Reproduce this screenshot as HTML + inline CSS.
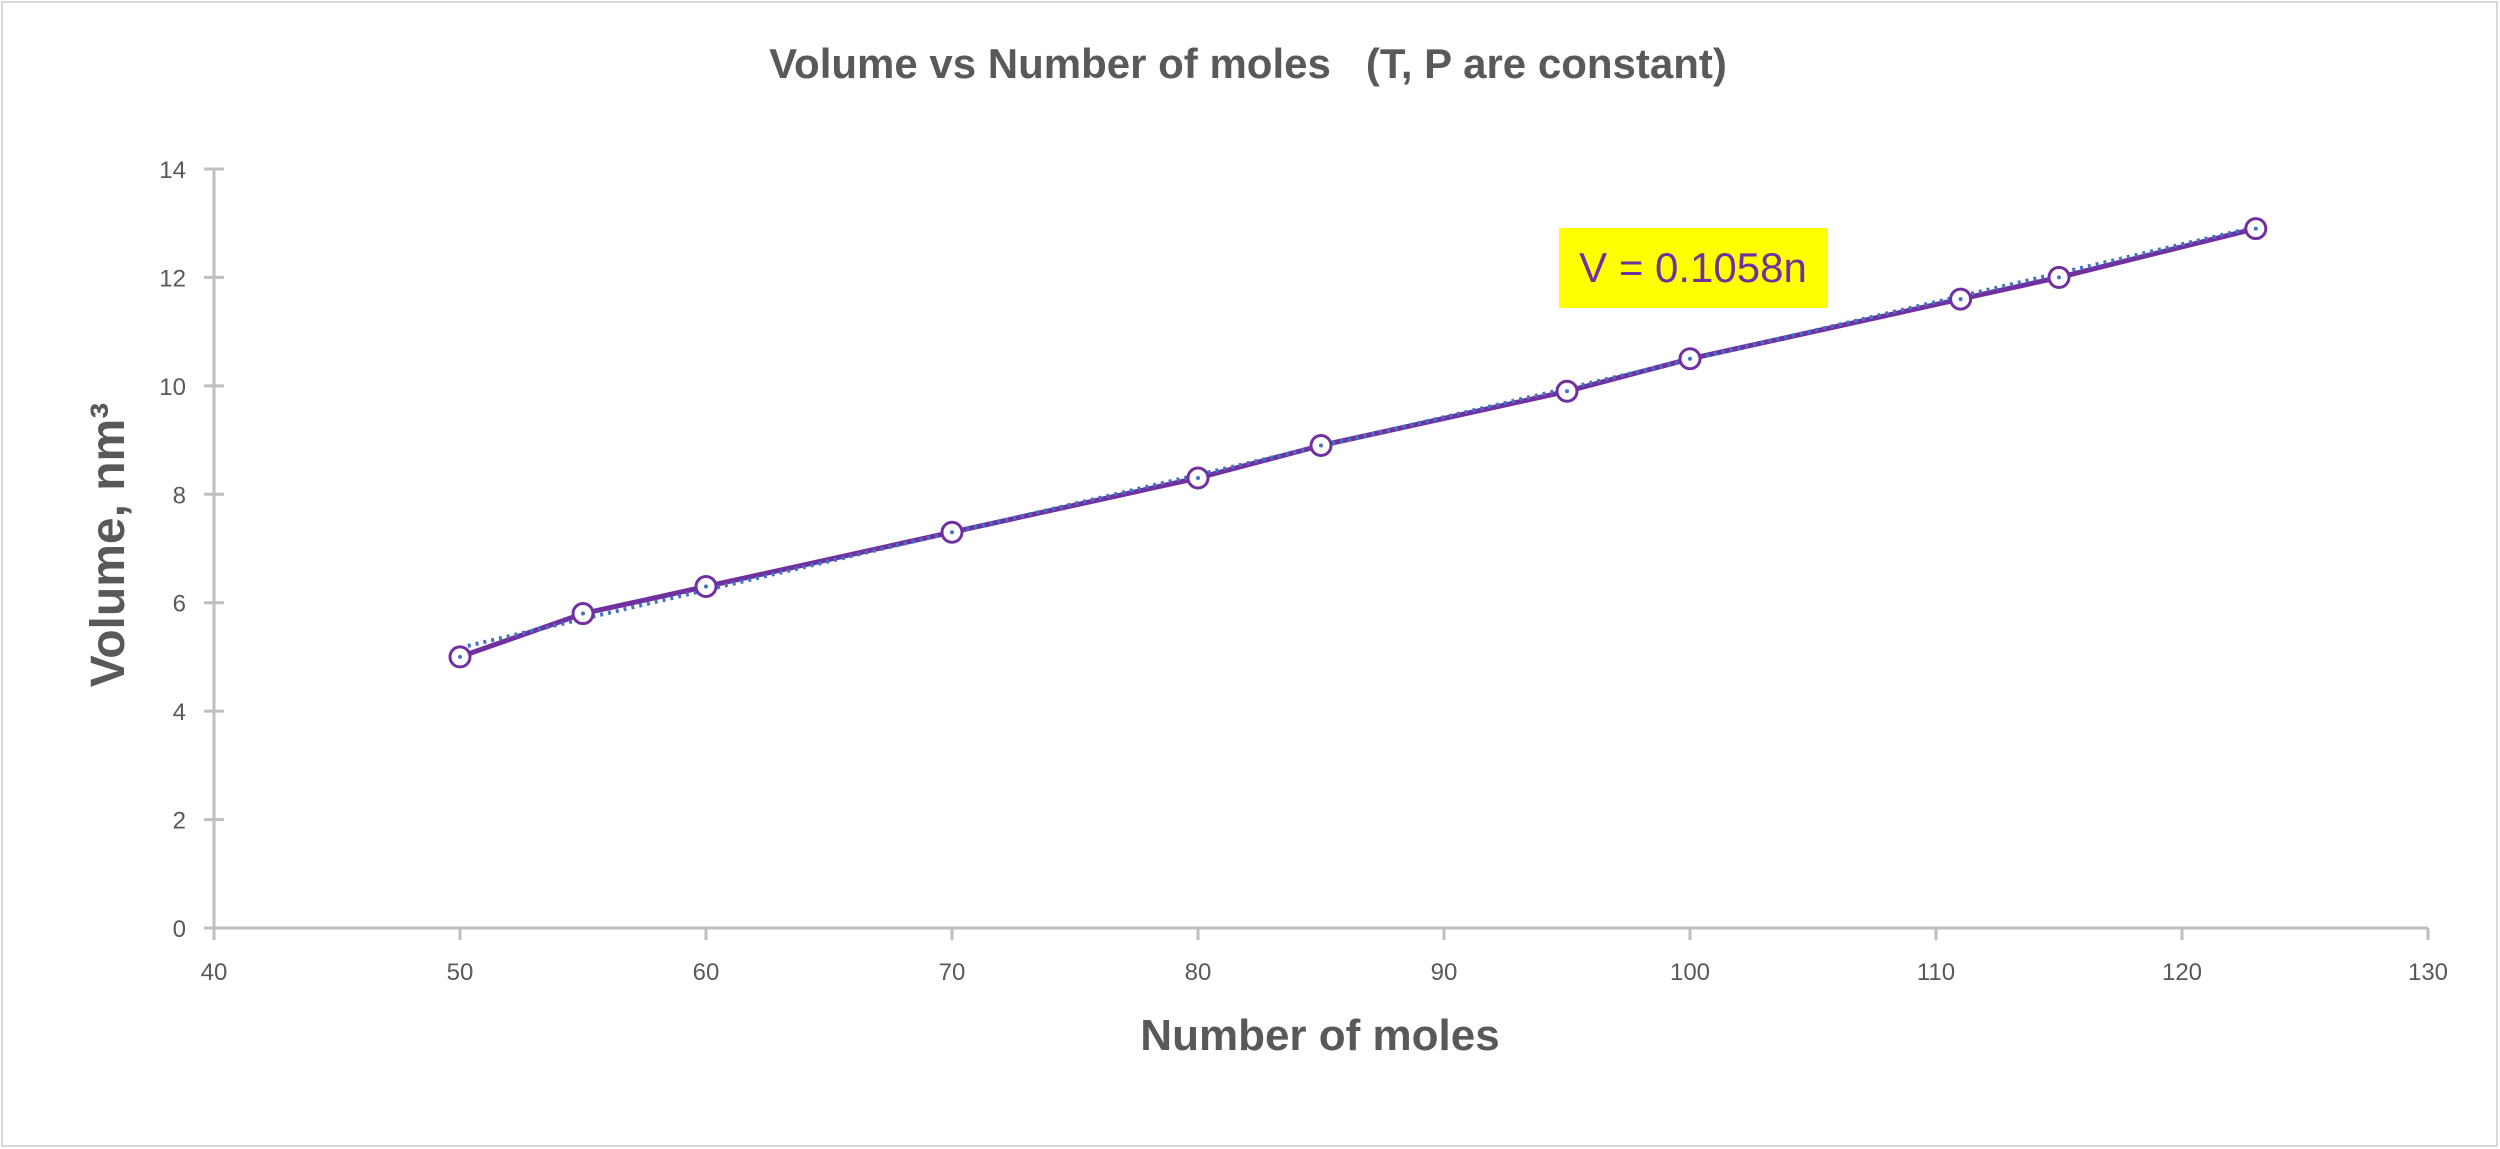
<!DOCTYPE html>
<html><head><meta charset="utf-8"><style>
html,body{margin:0;padding:0;background:#fff}
svg{display:block}
</style></head><body>
<svg width="2500" height="1149" viewBox="0 0 2500 1149" xmlns="http://www.w3.org/2000/svg">
<rect x="2" y="2" width="2495" height="1144" fill="#fff" stroke="#d9d9d9" stroke-width="2"/>
<text x="1248" y="78" text-anchor="middle" font-family="Liberation Sans, sans-serif" font-weight="bold" font-size="42" fill="#595959" xml:space="preserve">Volume vs Number of moles &#160; (T, P are constant)</text>
<g stroke="#bfbfbf" stroke-width="3">
<line x1="214" y1="169" x2="214" y2="928"/>
<line x1="214" y1="928" x2="2428" y2="928"/>
</g>
<g stroke="#bfbfbf" stroke-width="3" id="yt"></g>
<g font-family="Liberation Sans, sans-serif" font-size="24" fill="#595959" id="lbl"></g>
<text x="1320" y="1050" text-anchor="middle" font-family="Liberation Sans, sans-serif" font-weight="bold" font-size="44" fill="#595959">Number of moles</text>
<text transform="translate(124,545) rotate(-90)" text-anchor="middle" font-family="Liberation Sans, sans-serif" font-weight="bold" font-size="48" fill="#595959">Volume, nm³</text>
<rect x="1559" y="228" width="269" height="80" fill="#ffff00"/>
<text x="1693" y="282" text-anchor="middle" font-family="Liberation Sans, sans-serif" font-size="42" fill="#7030a0">V = 0.1058n</text>
<g id="plot"></g>
<script>
var x=function(v){return 214+(v-40)*24.6},y=function(v){return 928-v*54.214};
var ns="http://www.w3.org/2000/svg";
function el(p,t,a,txt){var e=document.createElementNS(ns,t);for(var k in a)e.setAttribute(k,a[k]);if(txt!==undefined)e.textContent=txt;document.getElementById(p).appendChild(e);}
for(var i=0;i<=14;i+=2){el('yt','line',{x1:204,x2:224,y1:y(i),y2:y(i)});el('lbl','text',{x:186,y:y(i)+9,'text-anchor':'end'},String(i));}
for(var v=40;v<=130;v+=10){el('yt','line',{x1:x(v),x2:x(v),y1:928,y2:940});el('lbl','text',{x:x(v),y:980,'text-anchor':'middle'},String(v));}
var d=[[50,5],[55,5.8],[60,6.3],[70,7.3],[80,8.3],[85,8.9],[95,9.9],[100,10.5],[111,11.6],[115,12],[123,12.9]];
var pts=d.map(function(p){return x(p[0]).toFixed(1)+','+y(p[1]).toFixed(1)}).join(' ');
el('plot','polyline',{points:pts,fill:'none',stroke:'#7030a0','stroke-width':5,'stroke-linejoin':'round'});
el('plot','line',{x1:x(50),y1:y(5.17),x2:x(123),y2:y(12.93),stroke:'#4472c4','stroke-width':4,'stroke-dasharray':'3 5'});
d.forEach(function(p){el('plot','circle',{cx:x(p[0]),cy:y(p[1]),r:10,fill:'#fff',stroke:'#7030a0','stroke-width':3});el('plot','circle',{cx:x(p[0]),cy:y(p[1]),r:2,fill:'#4472c4'});});
</script>
</svg>
</body></html>
